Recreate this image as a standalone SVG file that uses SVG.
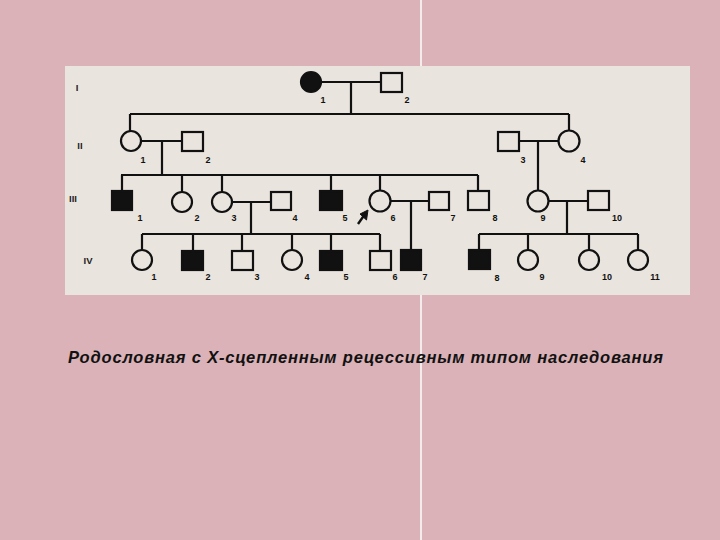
<svg xmlns="http://www.w3.org/2000/svg" width="720" height="540" viewBox="0 0 720 540">
<style>
.ln{stroke:#111;stroke-width:2.2;fill:none}
.o{stroke:#111;stroke-width:2.2;fill:#e9e4de}
.f{stroke:#111;stroke-width:2.2;fill:#111}
.t{font-family:"Liberation Sans",Arial,sans-serif;font-weight:bold;font-size:9px;fill:#111;text-anchor:middle}
.r{font-family:"Liberation Sans",Arial,sans-serif;font-weight:bold;font-size:9.5px;fill:#222;text-anchor:middle}
.cap{font-family:"Liberation Sans",Arial,sans-serif;font-weight:bold;font-style:italic;font-size:16.5px;fill:#111}
</style>
<rect x="0" y="0" width="720" height="540" fill="#dab2b7"/>
<rect x="420" y="0" width="2" height="540" fill="#f4ecec"/>
<rect x="65" y="66" width="625" height="229" fill="#e9e4de"/>
<g id="generation-labels">
<text class="r" x="77" y="91">I</text>
<text class="r" x="80" y="149">II</text>
<text class="r" x="73" y="202">III</text>
<text class="r" x="88" y="264">IV</text>
</g>
<g id="connectors">
<path class="ln" d="M321 82H381M351 82V114M130 114H569M130 114V131M569 114V131"/>
<path class="ln" d="M141 141H182M162 141V175M519 141H558M538 141V191"/>
<path class="ln" d="M121 175H478M122 175V191M182 175V192M222 175V192M331 175V191M380 175V191M478 175V191"/>
<path class="ln" d="M232 202H271M251 202V234M391 201H429M411 201V250M549 201H588M567 201V234"/>
<path class="ln" d="M142 234H380M142 234V250M193 234V251M242 234V251M292 234V250M331 234V251M380 234V251"/>
<path class="ln" d="M479 234H638M479 234V250M528 234V250M589 234V250M638 234V250"/>
</g>
<g id="I-1"><circle class="f" cx="311" cy="82" r="10"/><text class="t" x="323" y="103">1</text></g>
<g id="I-2"><rect class="o" x="381" y="73" width="21" height="19"/><text class="t" x="407" y="103">2</text></g>
<g id="II-1"><circle class="o" cx="131" cy="141" r="10"/><text class="t" x="143" y="163">1</text></g>
<g id="II-2"><rect class="o" x="182" y="132" width="21" height="19"/><text class="t" x="208" y="163">2</text></g>
<g id="II-3"><rect class="o" x="498" y="132" width="21" height="19"/><text class="t" x="523" y="163">3</text></g>
<g id="II-4"><circle class="o" cx="569" cy="141" r="10.5"/><text class="t" x="583" y="163">4</text></g>
<g id="III-1"><rect class="f" x="112" y="191" width="20" height="19"/><text class="t" x="140" y="221">1</text></g>
<g id="III-2"><circle class="o" cx="182" cy="202" r="10"/><text class="t" x="197" y="221">2</text></g>
<g id="III-3"><circle class="o" cx="222" cy="202" r="10"/><text class="t" x="234" y="221">3</text></g>
<g id="III-4"><rect class="o" x="271" y="192" width="20" height="18"/><text class="t" x="295" y="221">4</text></g>
<g id="III-5"><rect class="f" x="320" y="191" width="22" height="19"/><text class="t" x="345" y="221">5</text></g>
<g id="III-6"><circle class="o" cx="380" cy="201" r="10.5"/><text class="t" x="393" y="221">6</text>
<path d="M358 224L364 215.5" stroke="#111" stroke-width="2.4"/><path d="M368 210L366.5 220L360 214Z" fill="#111" stroke="#111" stroke-width="1"/></g>
<g id="III-7"><rect class="o" x="429" y="192" width="20" height="18"/><text class="t" x="453" y="221">7</text></g>
<g id="III-8"><rect class="o" x="468" y="191" width="21" height="19"/><text class="t" x="495" y="221">8</text></g>
<g id="III-9"><circle class="o" cx="538" cy="201" r="10.5"/><text class="t" x="543" y="221">9</text></g>
<g id="III-10"><rect class="o" x="588" y="191" width="21" height="19"/><text class="t" x="617" y="221">10</text></g>
<g id="IV-1"><circle class="o" cx="142" cy="260" r="10"/><text class="t" x="154" y="280">1</text></g>
<g id="IV-2"><rect class="f" x="182" y="251" width="21" height="19"/><text class="t" x="208" y="280">2</text></g>
<g id="IV-3"><rect class="o" x="232" y="251" width="21" height="19"/><text class="t" x="257" y="280">3</text></g>
<g id="IV-4"><circle class="o" cx="292" cy="260" r="10"/><text class="t" x="307" y="280">4</text></g>
<g id="IV-5"><rect class="f" x="320" y="251" width="22" height="19"/><text class="t" x="346" y="280">5</text></g>
<g id="IV-6"><rect class="o" x="370" y="251" width="21" height="19"/><text class="t" x="395" y="280">6</text></g>
<g id="IV-7"><rect class="f" x="401" y="250" width="20" height="20"/><text class="t" x="425" y="280">7</text></g>
<g id="IV-8"><rect class="f" x="469" y="250" width="21" height="19"/><text class="t" x="497" y="281">8</text></g>
<g id="IV-9"><circle class="o" cx="528" cy="260" r="10"/><text class="t" x="542" y="280">9</text></g>
<g id="IV-10"><circle class="o" cx="589" cy="260" r="10"/><text class="t" x="607" y="280">10</text></g>
<g id="IV-11"><circle class="o" cx="638" cy="260" r="10"/><text class="t" x="655" y="280">11</text></g>
<text class="cap" x="68" y="363" textLength="595" lengthAdjust="spacing">Родословная с Х-сцепленным рецессивным типом наследования</text>
</svg>
